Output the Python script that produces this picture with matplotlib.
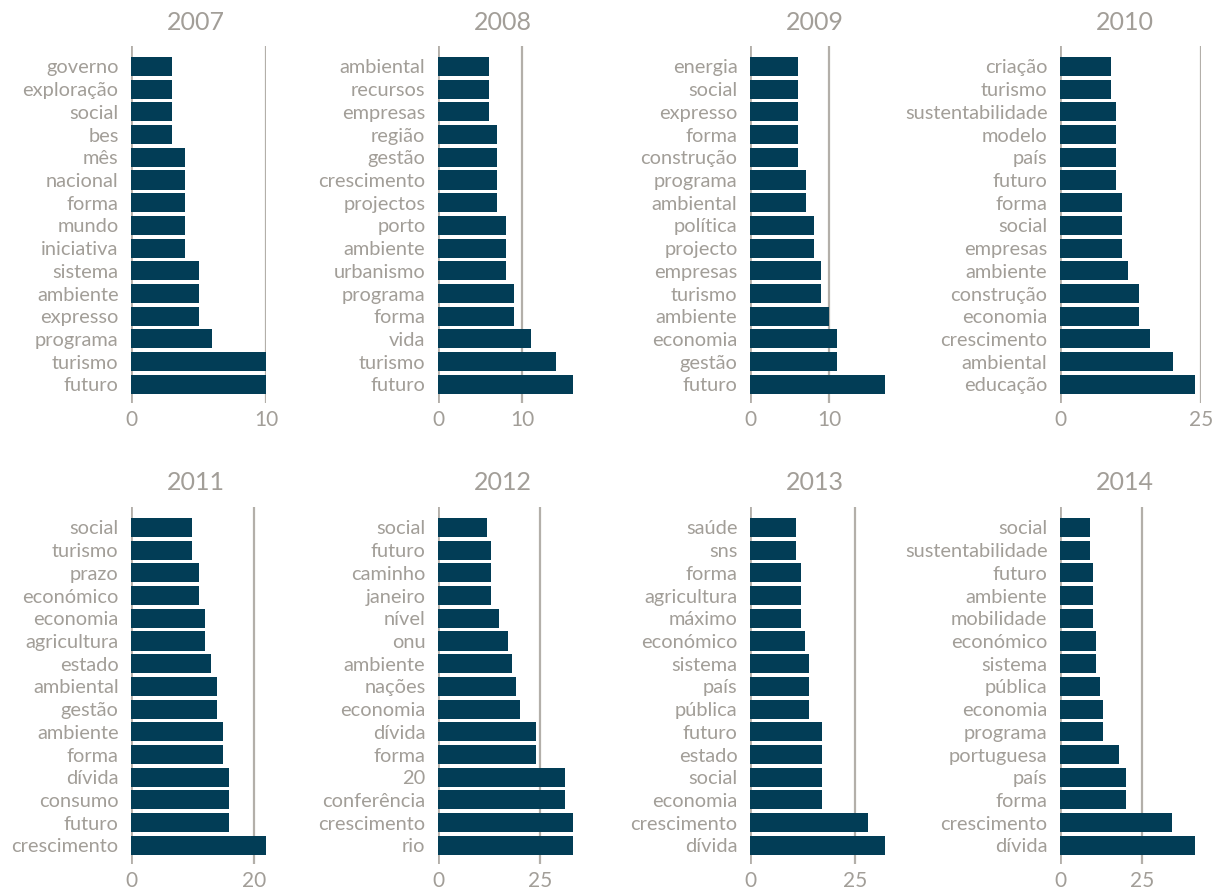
import matplotlib
matplotlib.use("Agg")
import matplotlib.pyplot as plt
import numpy as np

plt.rcParams['font.family'] = ['Lato', 'DejaVu Sans']

years = ["2007", "2008", "2009", "2010", "2011", "2012", "2013", "2014"]

words_2007 = ["governo", "exploração", "social", "bes", "mês", "nacional", "forma", "mundo",
              "iniciativa", "sistema", "ambiente", "expresso", "programa", "turismo", "futuro"]
counts_2007 = [3, 3, 3, 3, 4, 4, 4, 4, 4, 5, 5, 5, 6, 10, 10]

words_2008 = ["ambiental", "recursos", "empresas", "região", "gestão", "crescimento", "projectos",
              "porto", "ambiente", "urbanismo", "programa", "forma", "vida", "turismo", "futuro"]
counts_2008 = [6, 6, 6, 7, 7, 7, 7, 8, 8, 8, 9, 9, 11, 14, 16]

words_2009 = ["energia", "social", "expresso", "forma", "construção", "programa", "ambiental",
              "política", "projecto", "empresas", "turismo", "ambiente", "economia", "gestão", "futuro"]
counts_2009 = [6, 6, 6, 6, 6, 7, 7, 8, 8, 9, 9, 10, 11, 11, 17]

words_2010 = ["criação", "turismo", "sustentabilidade", "modelo", "país", "futuro", "forma", "social",
              "empresas", "ambiente", "construção", "economia", "crescimento", "ambiental", "educação"]
counts_2010 = [9, 9, 10, 10, 10, 10, 11, 11, 11, 12, 14, 14, 16, 20, 24]

words_2011 = ["social", "turismo", "prazo", "económico", "economia", "agricultura", "estado",
              "ambiental", "gestão", "ambiente", "forma", "dívida", "consumo", "futuro", "crescimento"]
counts_2011 = [10, 10, 11, 11, 12, 12, 13, 14, 14, 15, 15, 16, 16, 16, 22]

words_2012 = ["social", "futuro", "caminho", "janeiro", "nível", "onu", "ambiente", "nações",
              "economia", "dívida", "forma", "20", "conferência", "crescimento", "rio"]
counts_2012 = [12, 13, 13, 13, 15, 17, 18, 19, 20, 24, 24, 31, 31, 33, 33]

words_2013 = ["saúde", "sns", "forma", "agricultura", "máximo", "económico", "sistema", "país",
              "pública", "futuro", "estado", "social", "economia", "crescimento", "dívida"]
counts_2013 = [11, 11, 12, 12, 12, 13, 14, 14, 14, 17, 17, 17, 17, 28, 32]

words_2014 = ["social", "sustentabilidade", "futuro", "ambiente", "mobilidade", "económico", "sistema",
              "pública", "economia", "programa", "portuguesa", "país", "forma", "crescimento", "dívida"]
counts_2014 = [9, 9, 10, 10, 10, 11, 11, 12, 13, 13, 18, 20, 20, 34, 41]

tick_steps = [10, 10, 10, 25, 20, 25, 25, 25]

all_words = [words_2007, words_2008, words_2009, words_2010,
             words_2011, words_2012, words_2013, words_2014]
all_counts = [counts_2007, counts_2008, counts_2009, counts_2010,
              counts_2011, counts_2012, counts_2013, counts_2014]

BAR = "#023d56"
TXT = "#a29e98"
GRID = "#b3afa9"

W, H = 1214, 890
fig = plt.figure(figsize=(W / 100, H / 100), dpi=100)

zero_x = [131, 438, 750, 1060]
row_top = [46, 507]
axis_h = 357
bar_px = 135

for i in range(8):
    r, c = divmod(i, 4)
    words = all_words[i]
    counts = all_counts[i]
    tick = tick_steps[i]
    vmax = max(counts)
    xmax = max(vmax, tick)
    width_px = bar_px * xmax / vmax
    left = zero_x[c] / W
    bottom = 1 - (row_top[r] + axis_h) / H
    ax = fig.add_axes([left, bottom, width_px / W, axis_h / H])
    y = np.arange(len(words))
    ax.barh(y, counts, height=0.84, color=BAR, zorder=2)
    ax.set_xlim(0, xmax)
    ax.set_ylim(14.82, -0.9)
    ax.axvline(0, color=GRID, lw=2, zorder=1)
    ax.axvline(tick, color=GRID, lw=1.6, zorder=1)
    for s in ax.spines.values():
        s.set_visible(False)
    ax.set_yticks(y)
    ax.set_yticklabels(words, fontsize=14.4, color=TXT)
    ax.set_xticks([0, tick])
    ax.set_xticklabels(["0", str(tick)], fontsize=15, color=TXT)
    ax.tick_params(axis='y', length=0, pad=9)
    ax.tick_params(axis='x', length=0, pad=5)
    ax.patch.set_alpha(0)
    cx = (zero_x[c] + bar_px / 2 - 3) / W
    ty = 1 - (row_top[r] - 24) / H
    fig.text(cx, ty, years[i], ha='center', va='center', fontsize=18, color=TXT)

fig.savefig("out.png", dpi=100)
